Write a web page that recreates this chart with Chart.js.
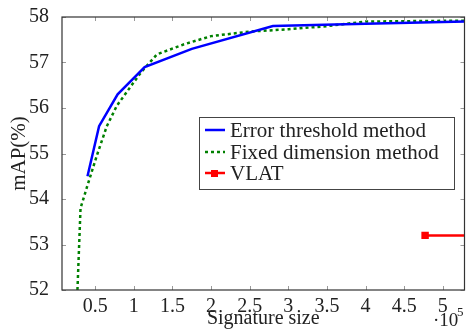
<!DOCTYPE html>
<html>
<head>
<meta charset="utf-8">
<script src="https://cdn.jsdelivr.net/npm/chart.js@4/dist/chart.umd.min.js"></script>
<style>
  html, body { margin: 0; padding: 0; background: #fff; overflow: hidden; }
  #wrap { width: 471px; height: 331px; }
</style>
</head>
<body>
<div id="wrap"><canvas id="chart" width="471" height="331"></canvas></div>
<script>
// signature size in units of 1e5
const errX = [0.4, 0.55, 0.79, 1.14, 1.75, 2.8, 4.0, 5.3];
const errY = [54.5, 55.6, 56.3, 56.9, 57.3, 57.8, 57.85, 57.9];

const fixX = [0.27, 0.31, 0.4, 0.52, 0.65, 0.78, 0.95, 1.1, 1.3, 1.65, 2.0, 2.5, 3.0, 3.5, 4.0, 5.3];
const fixY = [52.0, 53.8, 54.3, 54.95, 55.6, 56.05, 56.45, 56.8, 57.18, 57.4, 57.58, 57.68, 57.73, 57.8, 57.9, 57.92];

const vlatX = [4.77, 5.6];
const vlatY = [53.2, 53.2];

const xTicks = [0.5, 1, 1.5, 2, 2.5, 3, 3.5, 4, 4.5, 5];
const yTicks = [52, 53, 54, 55, 56, 57, 58];

const labels = ['Error threshold method', 'Fixed dimension method', 'VLAT'];

const serif = '"Liberation Serif", "DejaVu Serif", serif';

function pts(xs, ys) {
  return xs.map((x, i) => ({ x: x, y: ys[i] }));
}

const framePlugin = {
  id: 'frame',
  afterDatasetsDraw(chart) {
    const ctx = chart.ctx;
    const a = chart.chartArea;
    const xs = chart.scales.x;
    const ys = chart.scales.y;
    ctx.save();
    ctx.strokeStyle = '#999';
    ctx.lineWidth = 1;
    ctx.beginPath();
    xTicks.forEach(v => {
      const px = Math.round(xs.getPixelForValue(v)) + 0.5;
      ctx.moveTo(px, a.bottom); ctx.lineTo(px, a.bottom - 4);
      ctx.moveTo(px, a.top); ctx.lineTo(px, a.top + 4);
    });
    yTicks.forEach(v => {
      const py = Math.round(ys.getPixelForValue(v)) + 0.5;
      ctx.moveTo(a.left, py); ctx.lineTo(a.left + 4, py);
      ctx.moveTo(a.right, py); ctx.lineTo(a.right - 4, py);
    });
    ctx.stroke();

    ctx.strokeStyle = '#333';
    ctx.lineWidth = 1.2;
    ctx.strokeRect(a.left, a.top, a.right - a.left, a.bottom - a.top);

    // legend box
    const lx = 199, ly = 117, lw = 255, lh = 72;
    ctx.fillStyle = '#fff';
    ctx.fillRect(lx, ly, lw, lh);
    ctx.strokeStyle = '#444';
    ctx.lineWidth = 1;
    ctx.strokeRect(lx + 0.5, ly + 0.5, lw, lh);

    const rows = [130, 152, 173];
    const ds = chart.data.datasets;
    ctx.font = '21px ' + serif;
    ctx.textBaseline = 'middle';
    rows.forEach((ry, i) => {
      const d = ds[i];
      ctx.strokeStyle = d.borderColor;
      ctx.lineWidth = 2.5;
      ctx.setLineDash(d.borderDash || []);
      ctx.beginPath();
      ctx.moveTo(205, ry); ctx.lineTo(225, ry);
      ctx.stroke();
      ctx.setLineDash([]);
      if (d.pointRadius > 0) {
        ctx.fillStyle = d.borderColor;
        ctx.fillRect(211, ry - 3, 7, 7);
      }
      ctx.fillStyle = '#222';
      ctx.fillText(labels[i], 230, ry + 1);
    });

    // x axis multiplier
    ctx.font = '19px ' + serif;
    ctx.textBaseline = 'alphabetic';
    ctx.fillStyle = '#222';
    ctx.fillText('\u00b710', 433, 326);
    ctx.font = '13px ' + serif;
    ctx.fillText('5', 457, 316);
    ctx.restore();
  }
};

const ctx = document.getElementById('chart').getContext('2d');
new Chart(ctx, {
  type: 'scatter',
  data: {
    datasets: [
      {
        label: labels[0],
        data: pts(errX, errY),
        showLine: true,
        borderColor: '#0000ff',
        backgroundColor: '#0000ff',
        borderWidth: 2.5,
        pointRadius: 0,
        tension: 0
      },
      {
        label: labels[1],
        data: pts(fixX, fixY),
        showLine: true,
        borderColor: '#008000',
        backgroundColor: '#008000',
        borderWidth: 2.5,
        borderDash: [3, 3],
        pointRadius: 0,
        tension: 0
      },
      {
        label: labels[2],
        data: pts(vlatX, vlatY),
        showLine: true,
        borderColor: '#ff0000',
        backgroundColor: '#ff0000',
        borderWidth: 2.5,
        pointStyle: 'rect',
        pointRadius: 3.5,
        tension: 0
      }
    ]
  },
  options: {
    responsive: false,
    animation: false,
    layout: { padding: { top: 16, right: 1, left: 0, bottom: 0 } },
    plugins: {
      legend: { display: false },
      tooltip: { enabled: false }
    },
    scales: {
      x: {
        type: 'linear',
        min: 0.07,
        max: 5.28,
        grid: { display: false },
        border: { display: false },
        afterBuildTicks: s => { s.ticks = xTicks.map(v => ({ value: v })); },
        afterFit: s => { s.height = 41; },
        ticks: {
          color: '#222',
          font: { family: serif, size: 20 },
          padding: -3,
          maxRotation: 0,
          callback: v => String(v)
        },
        title: {
          display: true,
          text: 'Signature size',
          color: '#222',
          font: { family: serif, size: 20 },
          padding: { top: -4, bottom: 0 }
        }
      },
      y: {
        min: 52,
        max: 58,
        grid: { display: false },
        border: { display: false },
        afterBuildTicks: s => { s.ticks = yTicks.map(v => ({ value: v })); },
        afterFit: s => { s.width = 62; },
        ticks: {
          color: '#222',
          font: { family: serif, size: 20 },
          padding: 5
        },
        title: {
          display: true,
          text: 'mAP(%)',
          color: '#222',
          font: { family: serif, size: 21 },
          padding: { top: 7, bottom: 0 }
        }
      }
    }
  },
  plugins: [framePlugin]
});
</script>
</body>
</html>
